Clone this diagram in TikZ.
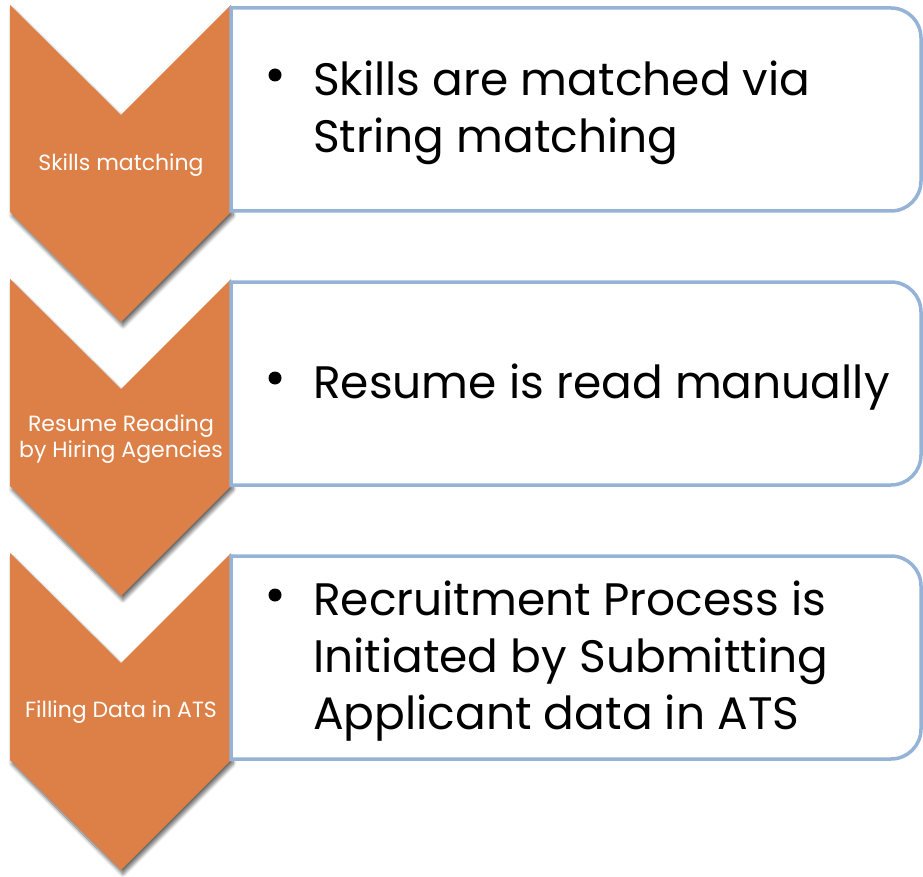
\documentclass[tikz,border=0pt]{standalone}
\usepackage{fontspec}
\setmainfont{Poppins}
\usetikzlibrary{shadows.blur}
\definecolor{chev}{HTML}{DD8047}
\definecolor{boxline}{HTML}{95B3D7}
\tikzset{
  chevshape/.style={fill=chev, draw=none,
    blur shadow={shadow xshift=2pt, shadow yshift=-4pt, shadow blur steps=8, shadow opacity=60, shadow blur radius=3.5pt}},
  boxshape/.style={draw=boxline, line width=3.5pt, fill=white},
  chevtext/.style={text=white, font=\fontsize{22}{26}\selectfont, align=center, inner sep=0pt},
  bultext/.style={text=black, font=\fontsize{45.5}{57}\selectfont, align=left, anchor=base west, inner sep=0pt},
  bulmark/.style={circle, fill=black, minimum size=13pt, inner sep=0pt}
}
\begin{document}
\begin{tikzpicture}[x=1pt,y=-1pt]
\useasboundingbox (0,0) rectangle (923,877);
\foreach \y/\n in {5/1,279/2,553/3}{
  \path[chevshape] (10,\y) -- (121,\y+110) -- (231,\y) -- (231,\y+207) -- (121,\y+317) -- (10,\y+207) -- cycle;
  \draw[boxshape] (231,\y+206) -- (231,\y+3) [rounded corners=30pt] -- (921,\y+3) -- (921,\y+206) [sharp corners] -- (231,\y+206) -- cycle;
}
\node[chevtext] (c1) at (121,165) {Skills matching};
\node[chevtext] (c2) at (121,439) {Resume Reading\\by Hiring Agencies};
\node[chevtext] (c3) at (121,712) {Filling Data in ATS};
\node[bulmark] (b1) at (275,75) {};
\node[bultext] (t1) at (313,153) {Skills are matched via\\String matching};
\node[bulmark] (b2) at (275,378) {};
\node[bultext] (t2) at (313,398) {Resume is read manually};
\node[bulmark] (b3) at (275,595) {};
\node[bultext] (t3) at (313,729) {Recruitment Process is\\Initiated by Submitting\\Applicant data in ATS};
\end{tikzpicture}
\end{document}
